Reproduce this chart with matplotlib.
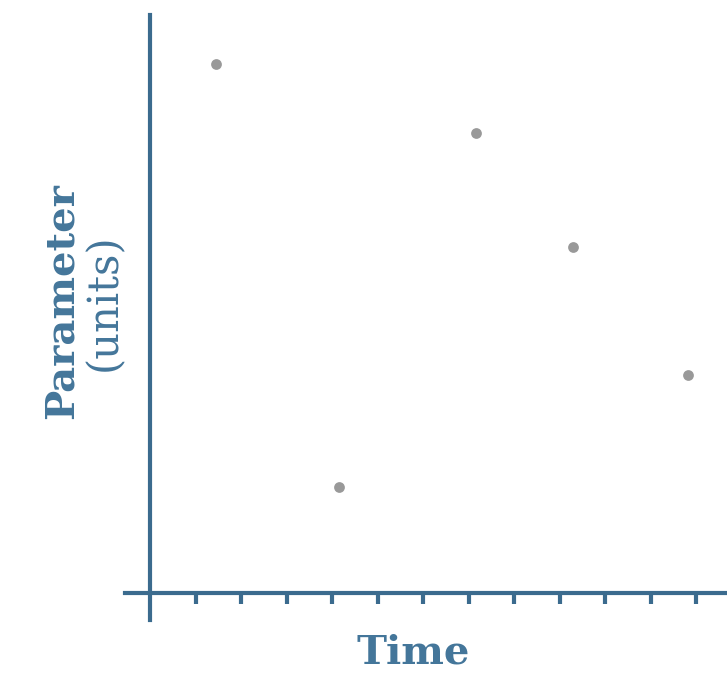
import matplotlib
matplotlib.use("Agg")
import matplotlib.pyplot as plt

# Data (time in tick units, parameter in arbitrary units)
time = [1.45, 4.15, 7.16, 9.3, 11.82]
param = [5.29, 1.06, 4.60, 3.46, 2.18]
tick_pos = list(range(1, 13))

AXIS_COLOR = "#3b6b8e"
TEXT_COLOR = "#44769a"

fig = plt.figure(figsize=(7.27, 6.77), dpi=100)
ax = fig.add_axes([125 / 727, 57 / 677, 602 / 727, 605 / 677])

ax.scatter(time, param, s=60, color="#999999", zorder=3, linewidths=0)

ax.set_xlim(-0.55, 12.68)
ax.set_ylim(-0.27, 5.78)

# spines crossing at the origin
ax.spines["left"].set_position(("data", 0))
ax.spines["bottom"].set_position(("data", 0))
ax.spines["top"].set_visible(False)
ax.spines["right"].set_visible(False)
for side in ["left", "bottom"]:
    ax.spines[side].set_color(AXIS_COLOR)
    ax.spines[side].set_linewidth(3)

ax.set_xticks(tick_pos)
ax.set_xticklabels([])
ax.set_yticks([])
ax.tick_params(axis="x", direction="out", length=8, width=3, color=AXIS_COLOR)

fig.text(413 / 727, 1 - 653 / 677, "Time", fontsize=29, fontweight="bold",
         family="DejaVu Serif", color=TEXT_COLOR, ha="center", va="center")
fig.text(62 / 727, 1 - 301 / 677, "Parameter", fontsize=29, fontweight="bold",
         family="DejaVu Serif", color=TEXT_COLOR, ha="center", va="center",
         rotation=90)
fig.text(104 / 727, 1 - 302 / 677, "(units)", fontsize=30,
         family="DejaVu Serif", color=TEXT_COLOR, ha="center", va="center",
         rotation=90)

fig.savefig("out.png", dpi=100)
